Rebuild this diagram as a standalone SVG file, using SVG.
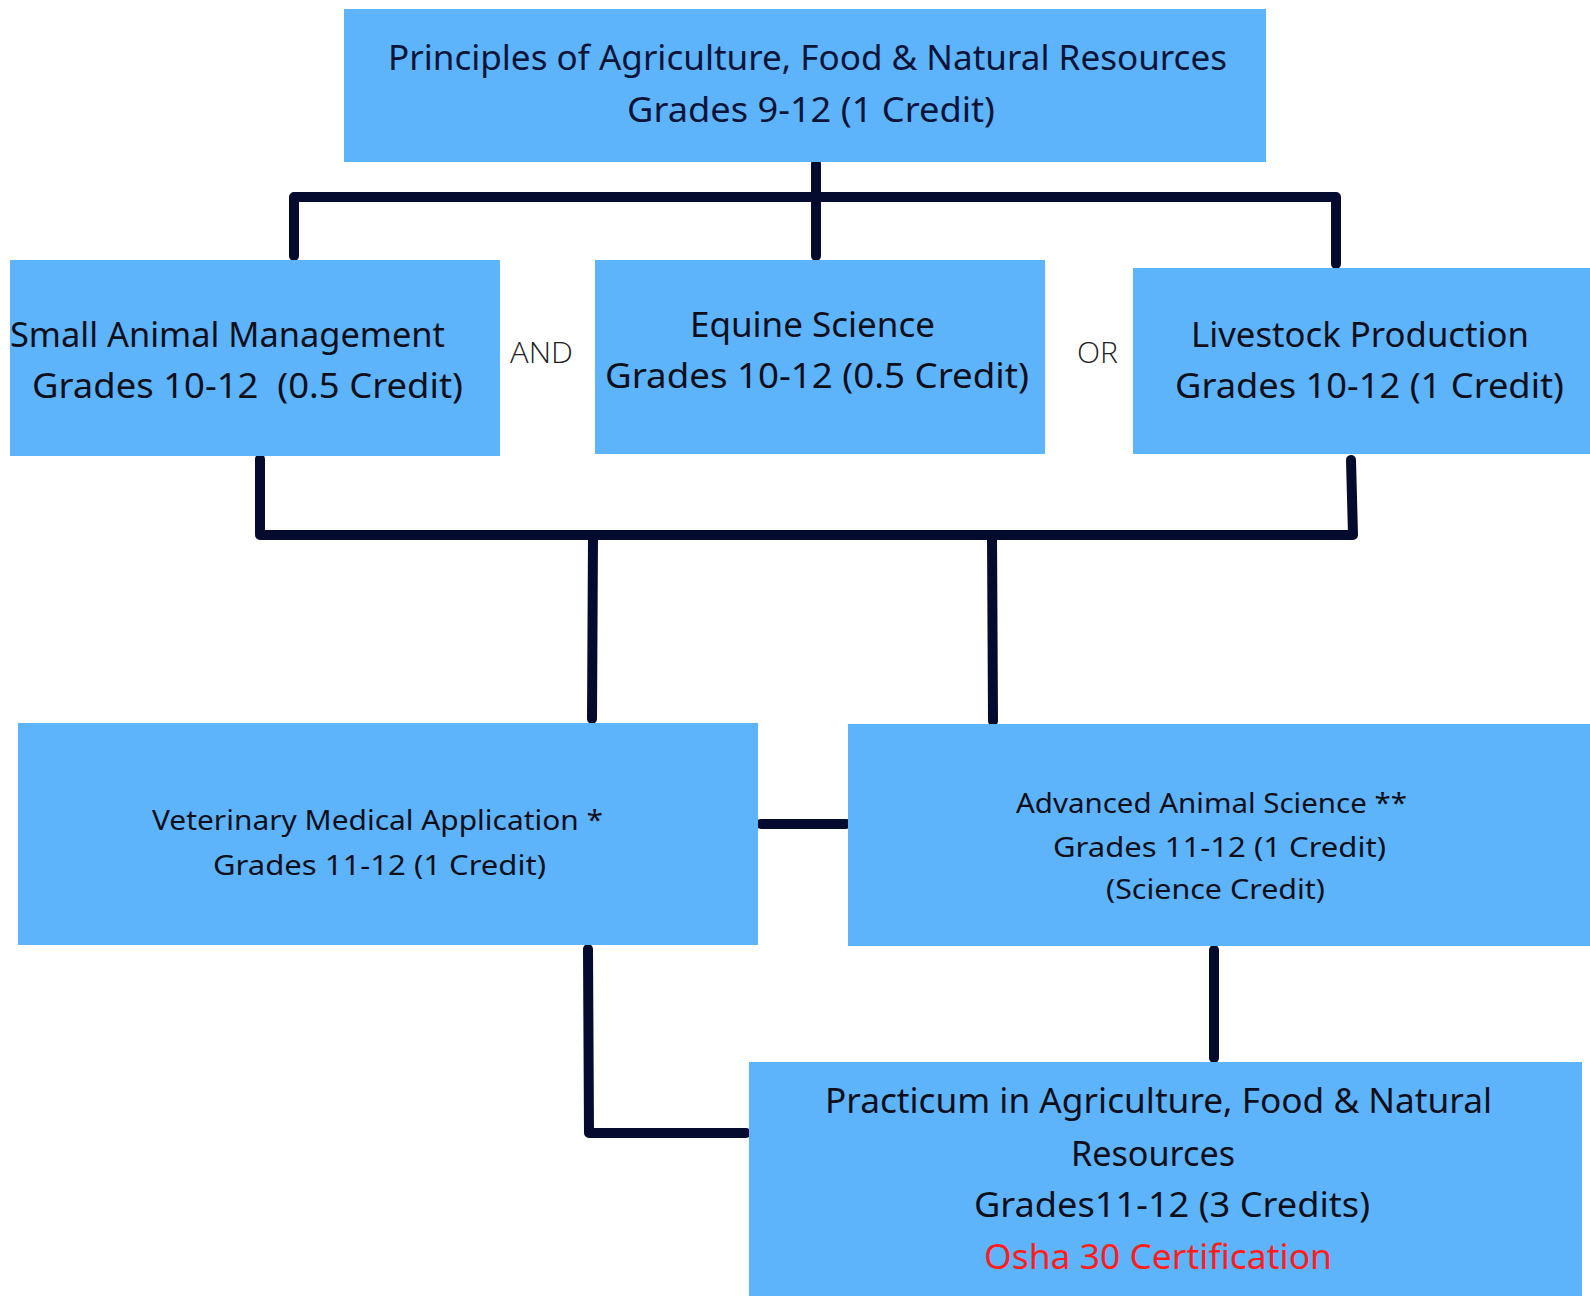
<svg xmlns="http://www.w3.org/2000/svg" width="1590" height="1296" viewBox="0 0 1590 1296">
  <style>
    .box { fill: #5DB4FA; }
    .t { font-family: "Noto Sans", "Liberation Sans", sans-serif; fill: #0E0F1A; }
    .t35 { font-size: 35px; }
    .t33 { font-size: 34px; }
    .t28 { font-size: 28px; }
    .navy { fill: #0B1438; }
    .red { fill: #FF1C1C; }
    .op { font-family: "Open Sans", "Liberation Sans", sans-serif; font-weight: 300; font-size: 30px; fill: #222; }
    .link { fill: none; stroke: #050B2E; stroke-width: 10; stroke-linecap: round; stroke-linejoin: round; }
  </style>
  <rect width="1590" height="1296" fill="#FFFFFF"/>

  <!-- connectors -->
  <g id="connectors">
    <path class="link" d="M816 164 V256"/>
    <path class="link" d="M294 256 V197 H1336 V264"/>
    <path class="link" d="M260 459 V535 H1353 L1351 460"/>
    <path class="link" d="M593 535 L592 719"/>
    <path class="link" d="M992 535 L993 721"/>
    <path class="link" d="M761 824 H846"/>
    <path class="link" d="M588 949 L589 1133 H746"/>
    <path class="link" d="M1214 950 V1058"/>
  </g>

  <g id="principles">
    <rect class="box" x="344" y="9" width="922" height="153"/>
    <text class="t t35 navy" x="388" y="70" textLength="839" lengthAdjust="spacingAndGlyphs">Principles of Agriculture, Food &amp; Natural Resources</text>
    <text class="t t35 navy" x="627" y="122" textLength="368" lengthAdjust="spacingAndGlyphs">Grades 9-12 (1 Credit)</text>
  </g>

  <g id="small-animal">
    <rect class="box" x="10" y="260" width="490" height="196"/>
    <text class="t t35" x="10" y="347" textLength="435" lengthAdjust="spacingAndGlyphs">Small Animal Management</text>
    <text class="t t35" x="32" y="398" textLength="431" lengthAdjust="spacingAndGlyphs" xml:space="preserve">Grades 10-12  (0.5 Credit)</text>
  </g>

  <text id="and-label" class="op" x="510" y="363" textLength="63" lengthAdjust="spacingAndGlyphs">AND</text>

  <g id="equine">
    <rect class="box" x="595" y="260" width="450" height="194"/>
    <text class="t t35" x="690" y="337" textLength="245" lengthAdjust="spacingAndGlyphs">Equine Science</text>
    <text class="t t35" x="605" y="388" textLength="424" lengthAdjust="spacingAndGlyphs">Grades 10-12 (0.5 Credit)</text>
  </g>

  <text id="or-label" class="op" x="1077" y="363" textLength="41" lengthAdjust="spacingAndGlyphs">OR</text>

  <g id="livestock">
    <rect class="box" x="1133" y="268" width="457" height="186"/>
    <text class="t t35" x="1191" y="347" textLength="338" lengthAdjust="spacingAndGlyphs">Livestock Production</text>
    <text class="t t35" x="1175" y="398" textLength="389" lengthAdjust="spacingAndGlyphs">Grades 10-12 (1 Credit)</text>
  </g>

  <g id="veterinary">
    <rect class="box" x="18" y="723" width="740" height="222"/>
    <text class="t t28" x="152" y="830" textLength="451" lengthAdjust="spacingAndGlyphs">Veterinary Medical Application *</text>
    <text class="t t28" x="213" y="875" textLength="333" lengthAdjust="spacingAndGlyphs">Grades 11-12 (1 Credit)</text>
  </g>

  <g id="advanced">
    <rect class="box" x="848" y="724" width="742" height="222"/>
    <text class="t t28" x="1016" y="813" textLength="391" lengthAdjust="spacingAndGlyphs">Advanced Animal Science **</text>
    <text class="t t28" x="1053" y="857" textLength="333" lengthAdjust="spacingAndGlyphs">Grades 11-12 (1 Credit)</text>
    <text class="t t28" x="1106" y="899" textLength="219" lengthAdjust="spacingAndGlyphs">(Science Credit)</text>
  </g>

  <g id="practicum">
    <rect class="box" x="749" y="1062" width="833" height="234"/>
    <text class="t t33" x="825" y="1113" textLength="667" lengthAdjust="spacingAndGlyphs">Practicum in Agriculture, Food &amp; Natural</text>
    <text class="t t33" x="1071" y="1166" textLength="164" lengthAdjust="spacingAndGlyphs">Resources</text>
    <text class="t t33" x="974" y="1217" textLength="396" lengthAdjust="spacingAndGlyphs">Grades11-12 (3 Credits)</text>
    <text class="t t33 red" x="984" y="1269" textLength="348" lengthAdjust="spacingAndGlyphs">Osha 30 Certification</text>
  </g>
</svg>
